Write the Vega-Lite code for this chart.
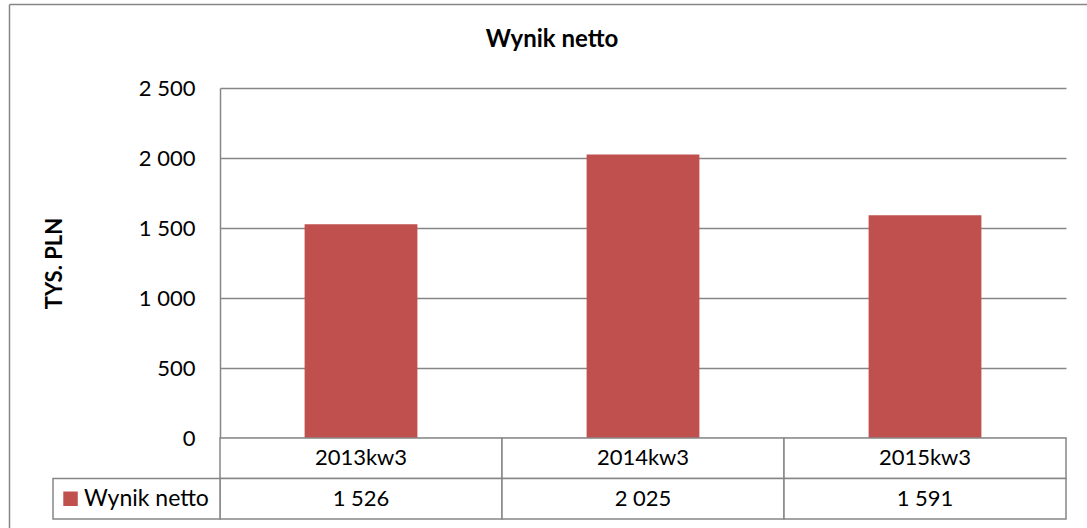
{
  "$schema": "https://vega.github.io/schema/vega-lite/v6.json",
  "width": 846,
  "height": 431,
  "autosize": {"type": "none"},
  "padding": {"left": 220, "top": 88, "right": 21, "bottom": 9},
  "background": "white",
  "title": {"text": "Wynik netto", "fontSize": 24, "fontWeight": "bold", "font": "Lato", "color": "black", "dx": -91, "offset": -72, "baseline": "bottom"},
  "datasets": {
    "wyniki": [
      {"okres": "2013kw3", "wynik": 1526},
      {"okres": "2014kw3", "wynik": 2025},
      {"okres": "2015kw3", "wynik": 1591}
    ],
    "seria": [{"seria": "Wynik netto"}],
    "rama": [{"rama": 0}]
  },
  "resolve": {"scale": {"x": "independent", "y": "independent"}},
  "layer": [
    {
      "data": {"name": "rama"},
      "mark": {"type": "point", "opacity": 0},
      "encoding": {
        "x": {"field": "rama", "type": "quantitative", "scale": {"domain": [0, 1], "range": [-211, 867]}, "axis": {"orient": "top", "offset": 84, "labels": false, "ticks": false, "grid": false, "domainColor": "#868686", "domainWidth": 1.5, "title": null}},
        "y": {"field": "rama", "type": "quantitative", "scale": {"domain": [0, 1], "range": [440, -84]}, "axis": {"orient": "left", "offset": 211, "labels": false, "ticks": false, "grid": false, "domainColor": "#868686", "domainWidth": 1.5, "title": null}}
      }
    },
    {
      "data": {"name": "wyniki"},
      "mark": {"type": "bar", "color": "#C0504D"},
      "encoding": {
        "x": {"field": "okres", "type": "nominal", "scale": {"paddingInner": 0.6, "paddingOuter": 0.3}, "axis": null},
        "y": {
          "field": "wynik", "type": "quantitative",
          "scale": {"domain": [0, 2500], "range": [350, 0]},
          "axis": {
            "orient": "left",
            "values": [0, 500, 1000, 1500, 2000, 2500], "format": ",d",
            "grid": true, "gridColor": "#868686", "gridWidth": 1.5,
            "domainColor": "#868686", "domainWidth": 1.5, "ticks": false,
            "labelPadding": 25, "labelFontSize": 22, "labelFont": "Lato", "labelColor": "black",
            "title": "TYS. PLN", "titleFontSize": 22, "titleFontWeight": "bold", "titleFont": "Lato",
            "titleColor": "black", "titlePadding": 72
          }
        }
      }
    },
    {
      "data": {"name": "wyniki"},
      "encoding": {
        "x": {"field": "okres", "type": "nominal", "scale": {"paddingInner": 0, "paddingOuter": 0}, "axis": null}
      },
      "layer": [
        {
          "mark": {"type": "rect", "fill": "white", "stroke": "#868686", "strokeWidth": 1.5},
          "encoding": {"y": {"datum": "okres", "type": "nominal", "scale": {"domain": ["okres", "wartosc"], "range": [350, 431], "paddingInner": 0, "paddingOuter": 0}, "axis": null}}
        },
        {
          "mark": {"type": "rect", "fill": "white", "stroke": "#868686", "strokeWidth": 1.5},
          "encoding": {"y": {"datum": "wartosc", "type": "nominal"}}
        },
        {
          "mark": {"type": "text", "font": "Lato", "fontSize": 22, "color": "black"},
          "encoding": {"y": {"datum": "okres", "type": "nominal"}, "text": {"field": "okres"}}
        },
        {
          "mark": {"type": "text", "font": "Lato", "fontSize": 22, "color": "black"},
          "encoding": {"y": {"datum": "wartosc", "type": "nominal"}, "text": {"field": "wynik", "type": "quantitative", "format": ",d"}}
        }
      ]
    },
    {
      "data": {"name": "seria"},
      "encoding": {
        "y": {"datum": "wartosc", "type": "nominal", "scale": {"domain": ["okres", "wartosc"], "range": [350, 431], "paddingInner": 0, "paddingOuter": 0}, "axis": null}
      },
      "layer": [
        {
          "mark": {"type": "rect", "fill": "white", "stroke": "#868686", "strokeWidth": 1.5},
          "encoding": {"x": {"field": "seria", "type": "nominal", "scale": {"range": [-167, 0], "paddingInner": 0, "paddingOuter": 0}, "axis": null}}
        },
        {
          "mark": {"type": "square", "filled": true, "color": "#C0504D", "opacity": 1, "size": 210},
          "encoding": {"x": {"field": "seria", "type": "nominal", "bandPosition": 0.105}}
        },
        {
          "mark": {"type": "text", "font": "Lato", "fontSize": 23, "color": "black", "align": "left"},
          "encoding": {"x": {"field": "seria", "type": "nominal", "bandPosition": 0.186}, "text": {"field": "seria"}}
        }
      ]
    }
  ],
  "config": {
    "view": {"stroke": null},
    "locale": {"number": {"decimal": ",", "thousands": " ", "grouping": [3], "currency": ["", " zł"]}}
  }
}
